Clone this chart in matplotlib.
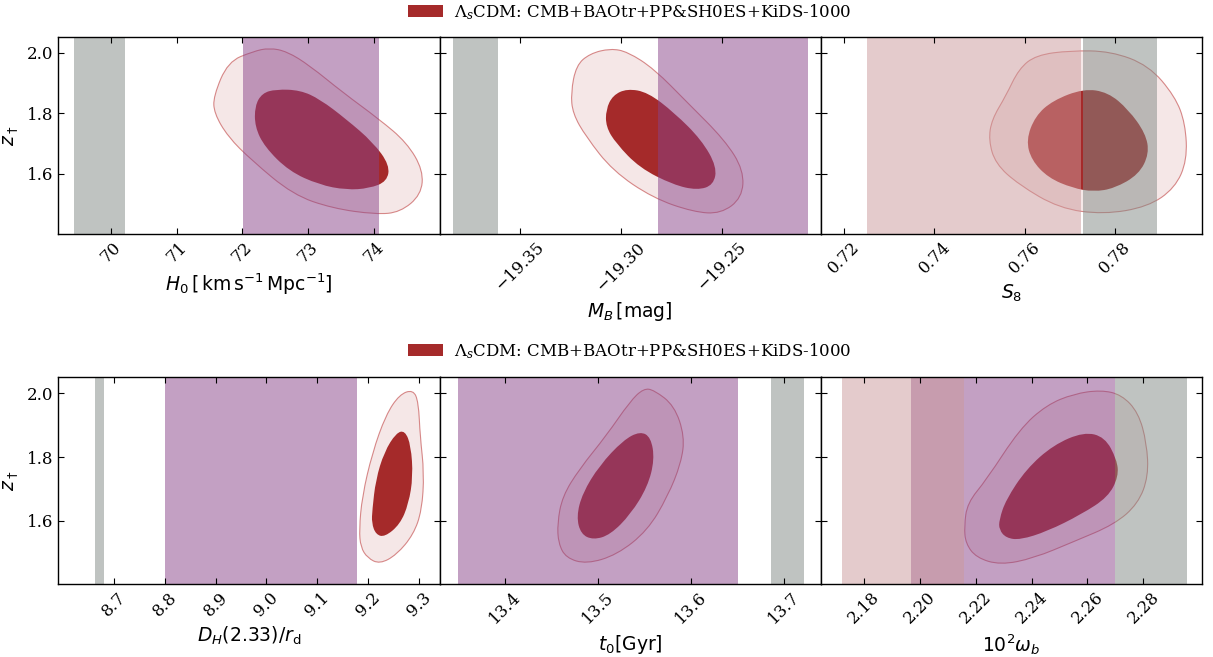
import matplotlib
matplotlib.use("Agg")
import matplotlib.pyplot as plt
from matplotlib.patches import PathPatch, Patch
from matplotlib.path import Path

plt.rcParams["font.family"] = "DejaVu Serif"
plt.rcParams["mathtext.fontset"] = "dejavusans"

legend_label = r"$\Lambda_s$CDM: CMB+BAOtr+PP&SH0ES+KiDS-1000"
z_ticks = [1.6, 1.8, 2.0]
z_lim = (1.40, 2.052)

# H0 panel
h0_lim = (69.2, 75.0)
h0_ticks = [70, 71, 72, 73, 74]
h0_gray = (69.44, 70.21)
h0_purple = (72.01, 74.08)
h0_outer = [(71.56, 1.856), (71.78, 1.970), (72.16, 2.004), (72.41, 2.016), (72.68, 2.004),
            (73.02, 1.958), (73.53, 1.868), (74.08, 1.780), (74.50, 1.703), (74.75, 1.611),
            (74.72, 1.530), (74.40, 1.472), (74.03, 1.465), (73.37, 1.485), (72.77, 1.530),
            (72.14, 1.644), (71.78, 1.722), (71.57, 1.800)]
h0_inner = [(72.19, 1.824), (72.30, 1.866), (72.51, 1.879), (72.88, 1.876), (73.18, 1.846),
            (73.58, 1.780), (73.99, 1.703), (74.24, 1.628), (74.20, 1.574), (73.93, 1.551),
            (73.58, 1.546), (73.17, 1.563), (72.71, 1.608), (72.34, 1.688), (72.19, 1.755)]

# M_B panel
mb_lim = (-19.390, -19.2007)
mb_ticks = [-19.35, -19.30, -19.25]
mb_gray = (-19.3835, -19.361)
mb_purple = (-19.2815, -19.2073)
mb_outer = [(-19.3248, 1.867), (-19.3222, 1.958), (-19.3154, 1.997), (-19.3052, 2.014),
            (-19.2966, 2.003), (-19.2834, 1.946), (-19.2668, 1.834), (-19.2484, 1.711),
            (-19.2390, 1.611), (-19.2398, 1.520), (-19.2503, 1.467), (-19.2640, 1.473),
            (-19.2840, 1.519), (-19.3040, 1.609), (-19.3173, 1.722), (-19.3239, 1.799)]
mb_inner = [(-19.3074, 1.812), (-19.3040, 1.859), (-19.2969, 1.881), (-19.2866, 1.869),
            (-19.2734, 1.801), (-19.2600, 1.712), (-19.2523, 1.622), (-19.2540, 1.562),
            (-19.2621, 1.545), (-19.2740, 1.563), (-19.2907, 1.619), (-19.3024, 1.700),
            (-19.3074, 1.755)]

# S8 panel
s8_lim = (0.7149, 0.7992)
s8_ticks = [0.72, 0.74, 0.76, 0.78]
s8_pink = (0.7251, 0.7724)
s8_gray = (0.7728, 0.7893)
s8_outer = [(0.7520, 1.711), (0.7527, 1.779), (0.7558, 1.857), (0.7587, 1.947), (0.7625, 1.992),
            (0.7700, 2.007), (0.7790, 2.005), (0.7874, 1.958), (0.7932, 1.856), (0.7955, 1.766),
            (0.7959, 1.644), (0.7932, 1.552), (0.7872, 1.490), (0.7774, 1.465), (0.7676, 1.485),
            (0.7586, 1.564), (0.7535, 1.633)]
s8_inner = [(0.7603, 1.711), (0.7623, 1.790), (0.7662, 1.842), (0.7730, 1.881), (0.7784, 1.869),
            (0.7829, 1.812), (0.7867, 1.733), (0.7875, 1.666), (0.7852, 1.597), (0.7798, 1.551),
            (0.7752, 1.540), (0.7706, 1.552), (0.7652, 1.586), (0.7615, 1.644)]

# D_H(2.33)/r_d panel
dh_lim = (8.59, 9.341)
dh_ticks = [8.7, 8.8, 8.9, 9.0, 9.1, 9.2, 9.3]
dh_gray = (8.6627, 8.680)
dh_purple = (8.800, 9.178)
dh_outer = [(9.1826, 1.5705), (9.1885, 1.676), (9.2085, 1.813), (9.2350, 1.932), (9.2620, 1.997),
            (9.2890, 2.012), (9.2994, 1.973), (9.3027, 1.865), (9.3106, 1.749), (9.3060, 1.632),
            (9.2896, 1.556), (9.2563, 1.492), (9.2230, 1.463), (9.1990, 1.482), (9.1856, 1.516)]
dh_inner = [(9.2085, 1.634), (9.2152, 1.728), (9.2320, 1.816), (9.2555, 1.876), (9.2728, 1.883),
            (9.2845, 1.836), (9.2886, 1.739), (9.2800, 1.653), (9.2630, 1.588), (9.2329, 1.548),
            (9.2155, 1.556), (9.2072, 1.592)]

# t0 panel
t0_lim = (13.3295, 13.7396)
t0_ticks = [13.4, 13.5, 13.6, 13.7]
t0_purple = (13.349, 13.650)
t0_gray = (13.6859, 13.722)
t0_outer = [(13.4562, 1.5916), (13.4616, 1.676), (13.4798, 1.762), (13.5090, 1.868),
            (13.5343, 1.975), (13.5489, 2.016), (13.5602, 2.011), (13.5820, 1.962),
            (13.5931, 1.865), (13.5893, 1.781), (13.5749, 1.676), (13.5531, 1.568),
            (13.5203, 1.492), (13.4876, 1.463), (13.4655, 1.482), (13.4573, 1.528)]
t0_inner = [(13.4767, 1.6126), (13.4832, 1.686), (13.5014, 1.773), (13.5270, 1.853),
            (13.5453, 1.881), (13.5568, 1.862), (13.5607, 1.792), (13.5533, 1.707),
            (13.5351, 1.620), (13.5131, 1.555), (13.4948, 1.539), (13.4815, 1.557)]

# 10^2 omega_b panel
wb_lim = (2.1646, 2.301)
wb_ticks = [2.18, 2.20, 2.22, 2.24, 2.26, 2.28]
wb_pink = (2.1721, 2.2157)
wb_purple = (2.197, 2.2698)
wb_gray = (2.2698, 2.2955)
wb_outer = [(2.2159, 1.581), (2.2170, 1.655), (2.2238, 1.728), (2.2358, 1.889), (2.2454, 1.964),
            (2.2551, 1.999), (2.2648, 2.011), (2.2722, 1.996), (2.2782, 1.940), (2.2812, 1.844),
            (2.2818, 1.739), (2.2781, 1.653), (2.2697, 1.588), (2.2552, 1.534), (2.2407, 1.481),
            (2.2288, 1.460), (2.2202, 1.483), (2.2164, 1.528)]
wb_inner = [(2.2284, 1.602), (2.2308, 1.665), (2.2381, 1.762), (2.2478, 1.838), (2.2587, 1.879),
            (2.2662, 1.863), (2.2705, 1.792), (2.2711, 1.739), (2.2674, 1.674), (2.2577, 1.619),
            (2.2456, 1.566), (2.2359, 1.539), (2.2309, 1.545), (2.2284, 1.571)]

red = "#a52a2a"
purple = (0.537, 0.263, 0.537, 0.5)
pink = (0.796, 0.600, 0.608, 0.5)
gray = (0.506, 0.537, 0.522, 0.5)

top_panels = [
    (r"$H_0\,[\,\mathrm{km\,s^{-1}\,Mpc^{-1}}]$", h0_lim, h0_ticks, "{:.0f}",
     [(h0_purple, purple), (h0_gray, gray)], h0_outer, h0_inner),
    (r"$M_B\,[\mathrm{mag}]$", mb_lim, mb_ticks, "{:.2f}",
     [(mb_purple, purple), (mb_gray, gray)], mb_outer, mb_inner),
    (r"$S_8$", s8_lim, s8_ticks, "{:.2f}",
     [(s8_pink, pink), (s8_gray, gray)], s8_outer, s8_inner),
]
bottom_panels = [
    (r"$D_H(2.33)/r_\mathrm{d}$", dh_lim, dh_ticks, "{:.1f}",
     [(dh_purple, purple), (dh_gray, gray)], dh_outer, dh_inner),
    (r"$t_0[\mathrm{Gyr}]$", t0_lim, t0_ticks, "{:.1f}",
     [(t0_purple, purple), (t0_gray, gray)], t0_outer, t0_inner),
    (r"$10^2\omega_b$", wb_lim, wb_ticks, "{:.2f}",
     [(wb_purple, purple), (wb_pink, pink), (wb_gray, gray)], wb_outer, wb_inner),
]


def contour_path(pts):
    # closed outline drawn as quadratic curves through the midpoints of the points
    n = len(pts)
    mids = [((pts[i][0] + pts[(i + 1) % n][0]) / 2, (pts[i][1] + pts[(i + 1) % n][1]) / 2)
            for i in range(n)]
    verts = [mids[-1]]
    codes = [Path.MOVETO]
    for i in range(n):
        verts += [pts[i], mids[i]]
        codes += [Path.CURVE3, Path.CURVE3]
    return Path(verts, codes)


fig = plt.figure(figsize=(12.13, 6.57), dpi=100)
gs_top = fig.add_gridspec(1, 3, left=0.0481, right=0.991, bottom=0.6438, top=0.9437, wspace=0)
gs_bot = fig.add_gridspec(1, 3, left=0.0481, right=0.991, bottom=0.1111, top=0.4262, wspace=0)

label_font = dict(family="DejaVu Sans", size=13.5, math_fontfamily="dejavusans")

for gs, panels in [(gs_top, top_panels), (gs_bot, bottom_panels)]:
    for i, (xlabel, xlim, xticks, fmt, bands, outer, inner) in enumerate(panels):
        ax = fig.add_subplot(gs[0, i])
        ax.add_patch(PathPatch(contour_path(outer), facecolor=(0.647, 0.165, 0.165, 0.11),
                               edgecolor=(0.75, 0.25, 0.25, 0.6), lw=0.8, zorder=1))
        ax.add_patch(PathPatch(contour_path(inner), facecolor=red, edgecolor="none", zorder=1.1))
        for (lo, hi), c in bands:
            ax.axvspan(lo, hi, facecolor=c, edgecolor="none", zorder=2)
        ax.set_xlim(*xlim)
        ax.set_ylim(*z_lim)
        ax.set_xticks(xticks)
        ax.set_xticklabels([fmt.format(v).replace("-", "\u2212") for v in xticks],
                           rotation=45, ha="center")
        ax.set_yticks(z_ticks)
        if i == 0:
            ax.set_yticklabels(["1.6", "1.8", "2.0"])
            ax.set_ylabel(r"$z_\dagger$", fontdict=label_font)
        else:
            ax.set_yticklabels([])
        ax.set_xlabel(xlabel, fontdict=label_font)
        ax.set_axisbelow(False)
        ax.tick_params(direction="in", top=True, right=True, length=4, width=0.8, labelsize=12)
        for s in ax.spines.values():
            s.set_linewidth(1.0)

handle = [Patch(facecolor=red, edgecolor="none")]
leg_prop = dict(family="DejaVu Serif", size=12, math_fontfamily="dejavuserif")
for ypos in [0.982, 0.4658]:
    fig.legend(handle, [legend_label], loc="center", bbox_to_anchor=(0.519, ypos),
               frameon=False, prop=leg_prop, handlelength=2.1, handletextpad=0.7)

plt.savefig("out.png", dpi=100)
